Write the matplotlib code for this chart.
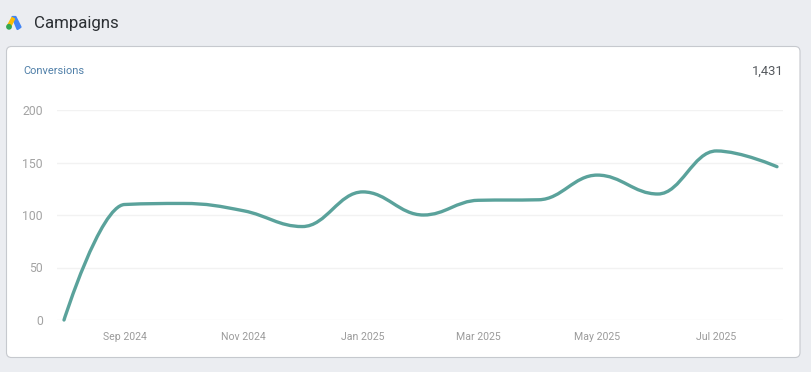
from datetime import datetime
import matplotlib
matplotlib.use('Agg')
import matplotlib.pyplot as plt
import matplotlib.dates as mdates
from matplotlib.path import Path
from matplotlib.patches import PathPatch, FancyBboxPatch, Polygon, Circle

months = ['2024-08', '2024-09', '2024-10', '2024-11', '2024-12', '2025-01', '2025-02',
          '2025-03', '2025-04', '2025-05', '2025-06', '2025-07', '2025-08']
conversions = [0, 110, 111, 104, 89, 122, 100, 114, 114.5, 138, 120, 161, 146]
y_ticks = [0, 50, 100, 150, 200]
x_tick_months = ['2024-09', '2024-11', '2025-01', '2025-03', '2025-05', '2025-07']
total_label = '1,431'

W, H = 811, 372
plt.rcParams['font.family'] = ['Roboto', 'DejaVu Sans']


def month_num(m):
    return mdates.date2num(datetime.strptime(m, '%Y-%m'))


def spline_path(xs, ys, smoothing=1.5):
    # dashboard style spline, control points clamped so peaks dont overshoot
    denom = smoothing + 1
    verts = [(xs[0], ys[0])]
    codes = [Path.MOVETO]
    n = len(xs)
    right_prev = (xs[0], ys[0])
    for i in range(1, n):
        x, y = xs[i], ys[i]
        if i < n - 1:
            lx, ly = xs[i - 1], ys[i - 1]
            nx, ny = xs[i + 1], ys[i + 1]
            lcx = (smoothing * x + lx) / denom
            lcy = (smoothing * y + ly) / denom
            rcx = (smoothing * x + nx) / denom
            rcy = (smoothing * y + ny) / denom
            corr = (rcy - lcy) * (rcx - x) / (rcx - lcx) + y - rcy
            lcy += corr
            rcy += corr
            if lcy > ly and lcy > y:
                lcy = max(ly, y)
                rcy = 2 * y - lcy
            elif lcy < ly and lcy < y:
                lcy = min(ly, y)
                rcy = 2 * y - lcy
            if rcy > ny and rcy > y:
                rcy = max(ny, y)
                lcy = 2 * y - rcy
            elif rcy < ny and rcy < y:
                rcy = min(ny, y)
                lcy = 2 * y - rcy
        else:
            lcx, lcy = x, y
            rcx, rcy = x, y
        verts += [right_prev, (lcx, lcy), (x, y)]
        codes += [Path.CURVE4, Path.CURVE4, Path.CURVE4]
        right_prev = (rcx, rcy)
    return Path(verts, codes)


fig = plt.figure(figsize=(W / 100, H / 100), dpi=100, facecolor='#ebedf1')

# overlay in pixel coords for the page furniture
bg = fig.add_axes([0, 0, 1, 1])
bg.set_xlim(0, W)
bg.set_ylim(H, 0)
bg.axis('off')
bg.add_patch(FancyBboxPatch((6.5, 46.5), 793.5, 311, boxstyle='round,pad=0,rounding_size=5',
                            fc='white', ec='#c6c9ce', lw=0.8))

# ads logo
bg.add_patch(Polygon([(12.5, 17), (15.5, 17), (20.5, 27), (17.5, 29)], closed=True, fc='#4285f4', ec='#4285f4', lw=1.6, joinstyle='round'))
bg.add_patch(Polygon([(12, 17.5), (14.5, 19), (10.5, 27), (7.5, 25.5)], closed=True, fc='#fbbc04', ec='#fbbc04', lw=1, joinstyle='round'))
bg.add_patch(Circle((9, 26.8), 2.9, fc='#34a853', ec='none'))

bg.text(34, 23.5, 'Campaigns', fontsize=12.2, color='#2b2f33', va='center', ha='left')
bg.text(23, 70.5, 'Conversions', fontsize=7.9, color='#4f7fa8', va='center', ha='left')
bg.text(783.5, 71, total_label, fontsize=9.4, color='#55595e', va='center', ha='right')

# plot area: x 57..783, y 0 at 320, 200 at 110
ax = fig.add_axes([57 / W, 1 - 320 / H, 726 / W, 210 / H])
ax.patch.set_alpha(0)
x_pos = [month_num(m) for m in months]
# first month sits at 64px, last at 777px in the picture
px_per_day = (777 - 64) / (x_pos[-1] - x_pos[0])
ax.set_xlim(x_pos[0] - (64 - 57) / px_per_day, x_pos[-1] + (783 - 777) / px_per_day)
ax.set_ylim(0, 200)
ax.yaxis.grid(True, color='#f2f2f2', lw=1)
ax.set_axisbelow(True)
for s in ax.spines.values():
    s.set_visible(False)
ax.set_yticks(y_ticks)
ax.set_xticks([month_num(m) for m in x_tick_months])
ax.xaxis.set_major_formatter(mdates.DateFormatter('%b %Y'))
ax.tick_params(axis='x', length=0, pad=8.5, labelsize=7.6, labelcolor='#9b9b9b')
ax.tick_params(axis='y', length=0, pad=10, labelsize=8.8, labelcolor='#a3a3a3')

ax.add_patch(PathPatch(spline_path(x_pos, conversions), fc='none', ec='#5aa29b', lw=2.4,
                       capstyle='round', clip_on=False))

fig.savefig('out.png', dpi=100, facecolor=fig.get_facecolor())
